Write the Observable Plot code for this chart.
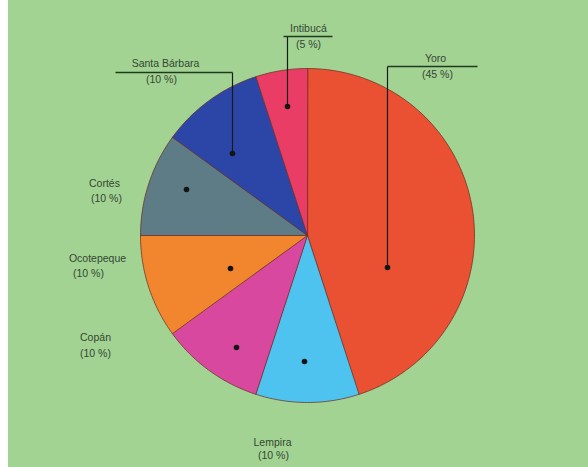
<!DOCTYPE html>
<html>
<head>
<meta charset="utf-8">
<script src="https://cdn.jsdelivr.net/npm/d3@7"></script>
<script src="https://cdn.jsdelivr.net/npm/@observablehq/plot@0.6"></script>
<style>
  html, body { margin: 0; padding: 0; }
  body { width: 588px; height: 467px; overflow: hidden;
         background: linear-gradient(to right, #ffffff 0px, #ffffff 8px, #a3d393 8px); }
  #chart svg { display: block; }
</style>
</head>
<body>
<div id="chart"></div>
<script>
// ---- data ----
const departments = ["Yoro", "Lempira", "Copán", "Ocotepeque", "Cortés", "Santa Bárbara", "Intibucá"];
const shares = [45, 10, 10, 10, 10, 10, 5];
const sliceColors = ["#ea5133", "#4fc3ef", "#d9489f", "#f2862f", "#5d7c86", "#2c46a8", "#ea3d66"];

// ---- layout (pixels in the 588x467 frame) ----
const CX = 307, CY = 235, R = 167;
const dotPx = [[387, 267], [304, 361], [236, 347], [230, 268], [186, 189], [232, 153], [287, 106]];
const namePx = [[435, 58], [272, 442], [95, 337], [97, 258], [104, 183], [165, 63], [308, 28]];
const pctPx  = [[437, 74], [273, 455], [95, 353], [88, 273], [106, 198], [161, 79], [308, 44]];
// leader lines: [elbowY, horizontal x1, horizontal x2] or null
const leaders = [[66, 387, 477], null, null, null, null, [72, 115, 232], [36, 283, 332]];

const U = px => (px - CX) / R;
const V = py => (CY - py) / R;

const rows = departments.map((name, i) => ({name, share: shares[i], color: sliceColors[i]}));
const arcs = d3.pie().sort(null).value(d => d.share)(rows);

// slice outlines built from the pie angles
const slicePts = [];
arcs.forEach(a => {
  const n = Math.max(2, Math.ceil((a.endAngle - a.startAngle) / (Math.PI / 180)));
  slicePts.push({name: a.data.name, x: 0, y: 0});
  for (let k = 0; k <= n; k++) {
    const t = a.startAngle + (a.endAngle - a.startAngle) * k / n;
    slicePts.push({name: a.data.name, x: Math.sin(t), y: Math.cos(t)});
  }
});

const dots = rows.map((d, i) => ({name: d.name, x: U(dotPx[i][0]), y: V(dotPx[i][1])}));
const nameLabels = rows.map((d, i) => ({text: d.name, x: U(namePx[i][0]), y: V(namePx[i][1])}));
const pctLabels = rows.map((d, i) => ({text: `(${d.share} %)`, x: U(pctPx[i][0]), y: V(pctPx[i][1])}));
const vLinks = [], hLinks = [];
leaders.forEach((l, i) => {
  if (!l) return;
  vLinks.push({x1: dots[i].x, y1: dots[i].y, x2: dots[i].x, y2: V(l[0])});
  hLinks.push({x1: U(l[1]), y1: V(l[0]), x2: U(l[2]), y2: V(l[0])});
});

const W = 588, H = 467;
const chart = Plot.plot({
  width: W, height: H, margin: 0,
  x: {domain: [U(0), U(W)], axis: null},
  y: {domain: [V(H), V(0)], axis: null},
  color: {domain: departments, range: sliceColors},
  style: {background: "transparent", fontFamily: "Liberation Sans, Arial, sans-serif"},
  marks: [
    Plot.line(slicePts, {x: "x", y: "y", z: "name", fill: "name", stroke: "#6a2a22",
      strokeWidth: 0.9, strokeOpacity: 0.8, curve: "linear-closed"}),
    Plot.link(vLinks, {x1: "x1", y1: "y1", x2: "x2", y2: "y2", stroke: "#1a1a1a", strokeWidth: 1.2}),
    Plot.link(hLinks, {x1: "x1", y1: "y1", x2: "x2", y2: "y2", stroke: "#1f3a1f", strokeWidth: 1.3}),
    Plot.dot(dots, {x: "x", y: "y", r: 2.8, fill: "#141414", stroke: "none"}),
    Plot.text(nameLabels, {x: "x", y: "y", text: "text", fontSize: 10.5, fill: "#344634"}),
    Plot.text(pctLabels, {x: "x", y: "y", text: "text", fontSize: 10.5, fill: "#344634"})
  ]
});
document.getElementById("chart").appendChild(chart);
</script>
</body>
</html>
